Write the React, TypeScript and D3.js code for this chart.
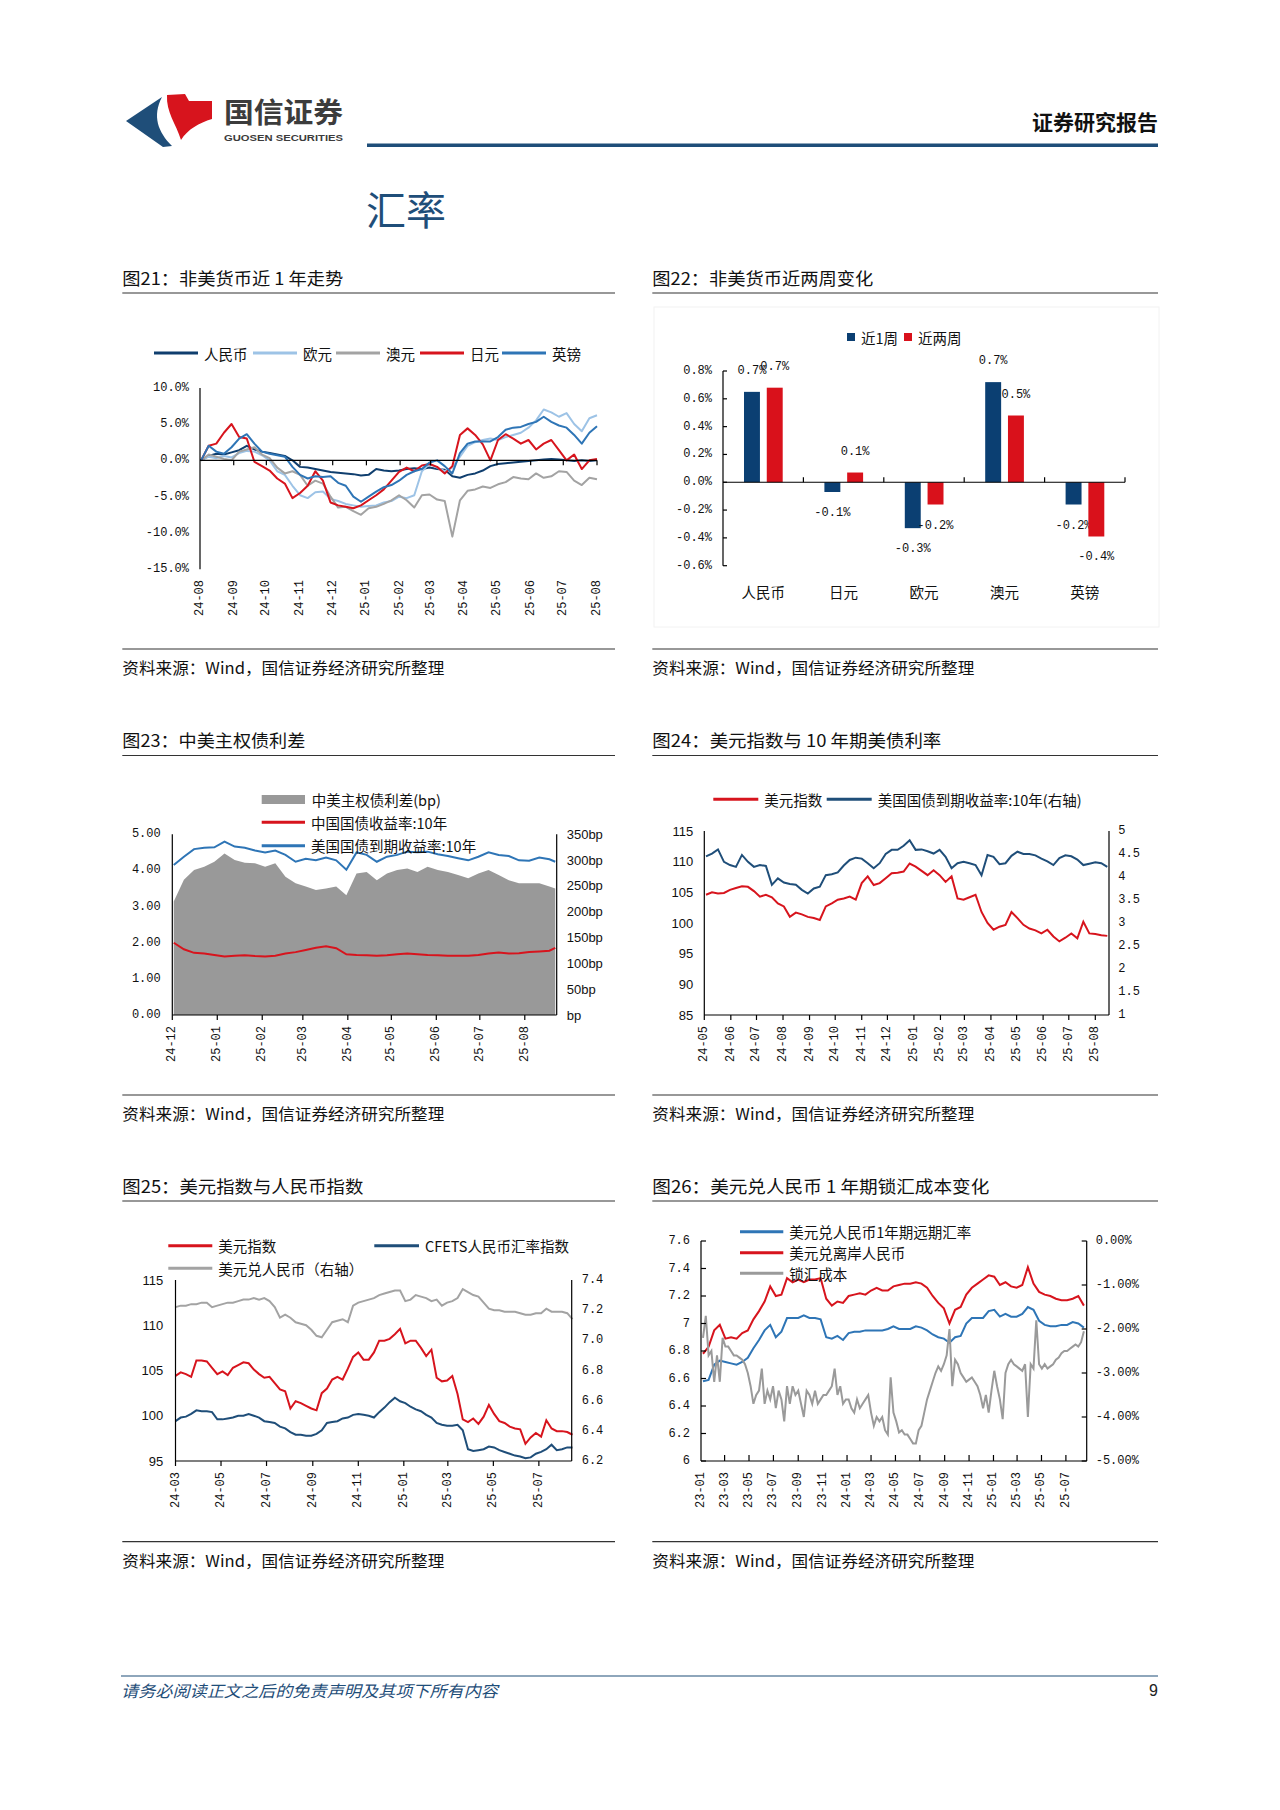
import React from "react";
import * as d3 from "d3";

const CJK = '"Noto Sans CJK SC", "Noto Sans", sans-serif';
const MONO = '"Liberation Mono", "DejaVu Sans Mono", monospace';
const SANS = '"Liberation Sans", Arial, sans-serif';

const NAVY = "#0f3e6e";
const BLUE = "#2e75b6";
const LIGHT = "#9dc3e6";
const GRAY = "#a3a3a3";
const RED = "#d7141d";
const HEAD = "#1f4e79";

const parse = d3.timeParse("%Y-%m-%d");
const fmtMonth = d3.timeFormat("%y-%m");

// 图21 非美货币近1年走势 (weekly from 2024-08-02, %)
const fx21Start = "2024-08-02";
const fx21Names = ["人民币", "欧元", "澳元", "日元", "英镑"];
const fx21Cny = [0, 0.6, 0.9, 0.8, 1.1, 1.4, 2.0, 1.5, 1.2, 1.0, 0.8, 0.6, 0.0, -0.9, -1.0, -1.2, -1.4, -1.6, -1.7, -1.8, -1.9, -2.1, -2.0, -1.2, -1.4, -1.5, -1.4,
  -1.2, -1.1, -1.2, -1.0, -1.2, -1.3, -2.2, -2.4, -2.0, -1.8, -1.4, -0.8, -0.5, -0.4, -0.3, -0.2, -0.1, 0.0, 0.1, 0.2, 0.1, 0.0, -0.1, 0.0, -0.1, 0.0];
const fx21Eur = [0, 0.5, 0.3, 0.6, 0.4, 1.0, 1.3, 1.2, 0.7, 0.0, -1.5, -2.0, -3.5, -4.8, -5.2, -4.4, -4.3, -5.3, -5.6, -6.0, -6.2, -6.4, -6.3, -6.2, -5.8, -5.6, -5.0,
  -5.2, -4.8, -1.5, -0.5, -1.0, -1.5, -1.0, 0.5, 2.0, 2.5, 2.8, 3.0, 2.8, 3.2, 3.5, 3.8, 4.5, 5.5, 7.0, 6.6, 6.0, 6.5, 5.0, 4.0, 5.8, 6.2];
const fx21Aud = [0, 0.8, 0.5, 0.2, 0.0, 1.2, 1.5, 1.8, 0.8, 0.3, -1.0, -1.8, -1.5, -2.0, -3.5, -2.8, -3.2, -5.0, -6.5, -6.4, -7.0, -7.5, -6.6, -6.4, -6.0, -5.5, -4.8,
  -5.5, -6.5, -4.8, -4.7, -5.4, -5.6, -10.5, -5.5, -4.2, -4.0, -3.6, -3.8, -3.3, -3.0, -2.3, -2.5, -2.6, -1.8, -2.4, -2.2, -1.5, -1.6, -2.8, -3.4, -2.4, -2.6];
const fx21Jpy = [0, 2.0, 2.3, 3.8, 5.0, 3.2, 3.0, -0.2, -0.8, -1.4, -2.5, -3.2, -5.2, -4.5, -3.5, -1.5, -2.8, -5.8, -6.2, -6.4, -6.6, -6.2, -5.5, -4.8, -4.0, -2.8, -1.6,
  -1.0, -1.5, -0.7, -0.5, -0.9, -1.8, -0.8, 3.5, 4.4, 3.5, 2.2, 0.0, 2.8, 3.6, 3.0, 2.3, 2.8, 1.5, 2.3, 2.8, 1.4, 0.0, 0.8, -1.2, 0.0, 0.2];
const fx21Gbp = [0, 2.0, 1.2, 0.9, 1.8, 3.0, 3.6, 2.3, 1.2, 0.9, 0.7, 0.5, -0.9, -2.0, -2.5, -2.2, -2.3, -2.2, -3.1, -3.5, -5.0, -5.7, -5.0, -4.3, -3.7, -3.4, -2.8,
  -2.0, -1.5, -1.2, -0.3, 0.0, -0.8, -1.8, 1.0, 2.3, 2.6, 2.6, 2.6, 3.2, 4.2, 4.5, 4.6, 5.0, 5.3, 6.0, 5.3, 4.8, 4.5, 3.5, 2.3, 3.8, 4.7];

// 图22 非美货币近两周变化 (%)
const fx22Cats = ["人民币", "日元", "欧元", "澳元", "英镑"];
const fx22Week1 = [0.65, -0.07, -0.33, 0.72, -0.16];
const fx22Week2 = [0.68, 0.07, -0.16, 0.48, -0.39];

// 图23 中美主权债利差 (weekly from 2024-12-02, last 2025-08-22)
const sp23Start = "2024-12-02";
const sp23Last = "2025-08-22";
const sp23Spread = [220, 262, 281, 287, 297, 313, 300, 295, 294, 287, 294, 268, 255, 249, 242, 245, 249, 232, 274, 277, 261, 274, 281, 284, 277, 287, 281, 277, 271, 265, 274, 281, 271, 261, 255, 255, 255, 249, 245];
const sp23Cn = [2.00, 1.82, 1.72, 1.70, 1.66, 1.62, 1.64, 1.65, 1.63, 1.62, 1.64, 1.70, 1.74, 1.80, 1.86, 1.90, 1.85, 1.68, 1.66, 1.65, 1.64, 1.65, 1.68, 1.70, 1.68, 1.66, 1.65, 1.64, 1.64, 1.64, 1.66, 1.70, 1.73, 1.70, 1.71, 1.74, 1.76, 1.78, 1.86];
const sp23Us = [4.15, 4.38, 4.59, 4.63, 4.64, 4.80, 4.66, 4.63, 4.55, 4.50, 4.55, 4.43, 4.24, 4.32, 4.28, 4.36, 4.28, 4.02, 4.50, 4.43, 4.24, 4.38, 4.43, 4.52, 4.50, 4.52, 4.45, 4.40, 4.34, 4.28, 4.38, 4.50, 4.43, 4.40, 4.28, 4.27, 4.36, 4.31, 4.24];

// 图24 美元指数与10年期美债利率 (weekly from 2024-05-03)
const dx24Start = "2024-05-03";
const dx24Dxy = [104.6, 105.0, 104.8, 104.9, 105.4, 105.7, 106.0, 105.9, 105.2, 104.3, 104.6, 104.2, 103.2, 102.7, 101.0, 101.7, 101.4, 101.0, 100.8, 100.5,
  102.7, 103.2, 103.8, 104.0, 104.3, 103.8, 106.5, 107.6, 106.2, 106.5, 107.3, 108.1, 108.2, 108.4, 109.7, 109.2, 108.5, 107.8, 108.6, 107.8,
  106.7, 107.6, 104.0, 103.8, 104.2, 104.6, 101.8, 100.0, 98.9, 99.4, 99.7, 101.8, 100.8, 99.7, 99.1, 98.8, 98.3, 98.9, 97.8, 97.0,
  97.6, 98.3, 97.5, 100.2, 98.3, 98.2, 98.0, 97.9];
const dx24Ust = [4.45, 4.51, 4.60, 4.33, 4.26, 4.22, 4.48, 4.33, 4.22, 4.26, 4.24, 3.83, 3.97, 3.88, 3.85, 3.83, 3.72, 3.64, 3.75, 3.79,
  4.04, 4.06, 4.10, 4.25, 4.37, 4.42, 4.40, 4.30, 4.19, 4.30, 4.50, 4.59, 4.59, 4.68, 4.80, 4.59, 4.60, 4.56, 4.51, 4.59,
  4.44, 4.19, 4.30, 4.33, 4.30, 4.26, 4.04, 4.48, 4.44, 4.28, 4.30, 4.46, 4.55, 4.50, 4.50, 4.47, 4.40, 4.34, 4.26, 4.41,
  4.47, 4.45, 4.38, 4.26, 4.29, 4.32, 4.30, 4.22];

// 图25 美元指数与人民币指数 (weekly from 2024-03-01)
const rm25Start = "2024-03-01";
const rm25Dxy = [104.4, 104.8, 104.6, 104.3, 106.1, 106.1, 106.0, 105.3, 104.6, 104.9, 104.5, 105.3, 105.6, 105.9, 105.8, 105.1, 104.6, 104.2, 104.3, 103.6,
  102.9, 102.7, 100.8, 101.6, 101.4, 101.1, 100.8, 100.6, 102.5, 103.0, 104.0, 104.3, 104.0, 105.2, 106.5, 107.0, 106.2, 106.2, 107.0, 108.3,
  108.3, 108.5, 109.0, 109.6, 108.0, 108.3, 108.3, 107.5, 106.6, 107.3, 104.2, 103.8, 103.9, 104.4, 102.4, 99.6, 99.3, 99.7, 99.1, 99.9,
  101.2, 100.2, 99.4, 99.2, 98.8, 98.6, 98.5, 96.9, 97.6, 98.1, 97.7, 99.5, 98.6, 98.3, 98.3, 98.2, 97.9];
const rm25Cfets = [99.4, 99.8, 99.9, 100.2, 100.6, 100.5, 100.5, 100.4, 99.6, 99.6, 99.7, 99.8, 100.0, 100.0, 100.2, 100.0, 99.8, 99.4, 99.3, 99.2,
  98.8, 98.6, 98.2, 97.9, 97.9, 97.8, 97.8, 98.0, 98.4, 99.2, 99.3, 99.4, 99.7, 99.8, 100.1, 100.2, 100.1, 100.0, 99.8, 100.4,
  100.9, 101.5, 102.0, 101.6, 101.4, 101.0, 100.7, 100.5, 100.1, 99.8, 99.2, 99.0, 98.9, 98.9, 99.0, 98.4, 96.3, 96.1, 96.2, 96.3,
  96.6, 96.5, 96.2, 96.0, 95.8, 95.6, 95.5, 95.3, 95.4, 95.8, 96.0, 96.3, 96.8, 96.2, 96.3, 96.5, 96.5];
const rm25UsdCny = [7.22, 7.23, 7.23, 7.24, 7.24, 7.25, 7.25, 7.22, 7.23, 7.24, 7.25, 7.25, 7.26, 7.27, 7.27, 7.28, 7.27, 7.28, 7.26, 7.22,
  7.15, 7.17, 7.15, 7.12, 7.11, 7.10, 7.07, 7.03, 7.02, 7.07, 7.12, 7.13, 7.14, 7.12, 7.23, 7.25, 7.26, 7.27, 7.28, 7.30,
  7.31, 7.32, 7.33, 7.33, 7.26, 7.27, 7.30, 7.29, 7.28, 7.26, 7.27, 7.23, 7.25, 7.26, 7.28, 7.34, 7.32, 7.30, 7.29, 7.25,
  7.21, 7.20, 7.20, 7.19, 7.19, 7.19, 7.18, 7.17, 7.17, 7.18, 7.18, 7.21, 7.19, 7.19, 7.19, 7.18, 7.14];

// 图26 美元兑人民币1年期锁汇成本 (rates biweekly from 2023-01-06, cost weekly from 2023-01-06)
const lk26Start = "2023-01-06";
const lk26Cnh = [6.78, 6.83, 6.95, 6.99, 6.89, 6.90, 6.89, 6.93, 6.95, 7.03, 7.09, 7.16, 7.27, 7.20, 7.21, 7.33, 7.30, 7.32, 7.30, 7.32,
  7.32, 7.33, 7.18, 7.13, 7.16, 7.15, 7.20, 7.21, 7.22, 7.21, 7.24, 7.26, 7.24, 7.24, 7.27, 7.28, 7.29, 7.29, 7.30, 7.29,
  7.26, 7.20, 7.15, 7.11, 7.00, 7.10, 7.12, 7.21, 7.26, 7.29, 7.32, 7.35, 7.34, 7.28, 7.30, 7.27, 7.26, 7.28, 7.41, 7.29,
  7.23, 7.21, 7.20, 7.18, 7.17, 7.17, 7.18, 7.20, 7.13];
const lk26Fwd = [6.58, 6.59, 6.70, 6.73, 6.72, 6.71, 6.70, 6.72, 6.75, 6.82, 6.88, 6.95, 6.99, 6.90, 6.94, 7.04, 7.04, 7.04, 7.06, 7.04,
  7.04, 7.03, 6.90, 6.89, 6.91, 6.88, 6.93, 6.94, 6.94, 6.95, 6.95, 6.95, 6.95, 6.96, 6.98, 6.96, 6.96, 6.96, 6.98, 6.97,
  6.95, 6.92, 6.90, 6.89, 6.86, 6.90, 6.91, 7.00, 7.04, 7.04, 7.04, 7.09, 7.10, 7.05, 7.07, 7.05, 7.05, 7.07, 7.12, 7.10,
  7.02, 6.99, 6.98, 6.98, 6.99, 6.99, 7.01, 7.00, 6.97];
const lk26Cost = [-2.2, -1.7, -2.6, -2.5, -3.2, -2.6, -3.2, -2.2, -2.4, -2.4,
  -2.5, -2.6, -2.6, -2.65, -2.7, -2.8, -3.0, -3.3, -3.7, -3.5,
  -3.4, -2.9, -3.7, -3.4, -3.6, -3.3, -3.8, -3.4, -3.6, -4.1,
  -3.3, -3.7, -3.3, -3.5, -3.4, -3.7, -4.0, -3.4, -3.5, -3.7,
  -3.4, -3.7, -3.6, -3.5, -3.5, -3.4, -3.3, -2.9, -3.5, -3.3,
  -3.7, -3.6, -3.6, -3.8, -3.9, -3.6, -3.8, -3.7, -3.6, -3.5,
  -3.9, -4.2, -4.0, -4.1, -4.0, -4.3, -4.4, -3.1, -3.9, -4.1,
  -4.35, -4.3, -4.4, -4.4, -4.5, -4.6, -4.6, -4.3, -4.2, -3.9,
  -3.6, -3.4, -3.2, -3.0, -2.85, -2.95, -2.8, -2.6, -2.0, -3.3,
  -2.7, -2.8, -3.0, -3.1, -3.2, -3.15, -3.1, -3.2, -3.3, -3.5,
  -3.8, -3.5, -3.9, -3.4, -2.95, -3.3, -3.6, -4.05, -3.0, -2.8,
  -2.7, -2.8, -2.85, -2.9, -2.95, -2.8, -4.0, -2.8, -2.9, -1.8,
  -2.8, -2.9, -2.8, -2.9, -2.85, -2.8, -2.7, -2.65, -2.55, -2.5,
  -2.5, -2.45, -2.4, -2.35, -2.4, -2.3, -2.05];

function stepDates(start: string, n: number, step: number) {
  const s = parse(start)!;
  return d3.range(n).map((i) => d3.timeDay.offset(s, i * step));
}

function path(dates: Date[], vals: number[], x: any, y: any) {
  return d3.line<number>().x((_, i) => x(dates[i])).y((v) => y(v))(vals) || "";
}

function Frame({ x0, x1, titleY, bottomY, title, titleLen }: any) {
  return (
    <g>
      <text x={x0} y={titleY} fontSize={17.5} dominantBaseline="central" fill="#111" textLength={titleLen} lengthAdjust="spacingAndGlyphs">{title}</text>
      <line x1={x0} x2={x1} y1={titleY + 16} y2={titleY + 16} stroke="#333" strokeWidth={1.2} />
      <line x1={x0} x2={x1} y1={bottomY} y2={bottomY} stroke="#333" strokeWidth={1.2} />
      <text x={x0} y={bottomY + 18} fontSize={16} dominantBaseline="central" fill="#111" textLength={322} lengthAdjust="spacingAndGlyphs">资料来源：Wind，国信证券经济研究所整理</text>
    </g>
  );
}

function XLabels({ ticks, x, y }: any) {
  return (
    <g>
      {ticks.map((t: Date, i: number) => (
        <text key={i} transform={`translate(${x(t)},${y}) rotate(-90)`} textAnchor="end" dominantBaseline="central" fontFamily={MONO} fontSize={12} fill="#111">
          {fmtMonth(t)}
        </text>
      ))}
    </g>
  );
}

function YLabels({ ticks, y, x, anchor, fmt, font = MONO, size = 12 }: any) {
  return (
    <g>
      {ticks.map((t: number, i: number) => (
        <text key={i} x={x} y={y(t)} textAnchor={anchor} dominantBaseline="central" fontFamily={font} fontSize={size} fill="#111">
          {fmt(t)}
        </text>
      ))}
    </g>
  );
}

function LegendLine({ x, y, color, label, w = 44, width = 3 }: any) {
  return (
    <g>
      <line x1={x} x2={x + w} y1={y} y2={y} stroke={color} strokeWidth={width} />
      <text x={x + w + 6} y={y} fontSize={14.5} dominantBaseline="central" fill="#111">{label}</text>
    </g>
  );
}

function Header() {
  return (
    <g>
      <path d="M126,121 L162,97 C152,116 158,132 172,146 L163,147 Z" fill={HEAD} />
      <path d="M167,95 L185,94 L189,101 L212,101 L212,119 C199,123 188,129 181,140 C176,124 166,112 167,95 Z" fill="#d7141d" />
      <text x={224} y={111} fontSize={28} fontWeight={600} fill="#3c3c3c" dominantBaseline="central" textLength={119} lengthAdjust="spacingAndGlyphs">国信证券</text>
      <text x={224} y={137} fontSize={9.5} fontWeight={700} fontFamily={SANS} fill="#3c3c3c" dominantBaseline="central" textLength={119} lengthAdjust="spacingAndGlyphs">GUOSEN SECURITIES</text>
      <text x={1158} y={121} fontSize={21} fontWeight={600} fill="#111" textAnchor="end" dominantBaseline="central">证券研究报告</text>
      <rect x={367} y={143.5} width={791} height={3.5} fill={HEAD} />
      <text x={366} y={208} fontSize={40} fill={HEAD} dominantBaseline="central">汇率</text>
    </g>
  );
}

function Footer() {
  return (
    <g>
      <line x1={121} x2={1158} y1={1676} y2={1676} stroke={HEAD} strokeWidth={1.2} />
      <text x={121} y={1690} fontSize={16} fontStyle="italic" fill={HEAD} dominantBaseline="central" textLength={377} lengthAdjust="spacingAndGlyphs">请务必阅读正文之后的免责声明及其项下所有内容</text>
      <text x={1158} y={1690} fontSize={16} fill="#222" textAnchor="end" dominantBaseline="central" fontFamily={SANS}>9</text>
    </g>
  );
}

function Fig21() {
  const d0 = parse("2024-08-01")!;
  const d1 = parse("2025-08-01")!;
  const x = d3.scaleTime().domain([d0, d1]).range([200, 597]);
  const y = d3.scaleLinear().domain([-15, 10]).range([569.3, 387.7]);
  const dates = stepDates(fx21Start, fx21Cny.length, 7);
  const months = d3.timeMonth.range(d0, d3.timeDay.offset(d1, 1));
  const series = [
    { v: fx21Cny, c: NAVY },
    { v: fx21Eur, c: LIGHT },
    { v: fx21Aud, c: GRAY },
    { v: fx21Jpy, c: RED },
    { v: fx21Gbp, c: BLUE },
  ];
  const legX = [154, 253, 336, 420, 502];
  return (
    <g>
      <Frame x0={122.3} x1={615} titleY={277} bottomY={649} title="图21：非美货币近 1 年走势" titleLen={221} />
      {series.map((s, i) => (
        <LegendLine key={i} x={legX[i]} y={353} color={s.c} label={fx21Names[i]} />
      ))}
      {series.map((s, i) => (
        <path key={i} d={path(dates, s.v, x, y)} fill="none" stroke={s.c} strokeWidth={2} strokeLinejoin="round" />
      ))}
      <line x1={200} x2={200} y1={388} y2={569.3} stroke="#000" strokeWidth={1.2} />
      <line x1={200} x2={597} y1={y(0)} y2={y(0)} stroke="#000" strokeWidth={1.2} />
      {months.slice(1).map((m, i) => (
        <line key={i} x1={x(m)} x2={x(m)} y1={y(0)} y2={y(0) + 5} stroke="#000" strokeWidth={1.2} />
      ))}
      <YLabels ticks={[-15, -10, -5, 0, 5, 10]} y={y} x={189} anchor="end" fmt={(v: number) => v.toFixed(1) + "%"} />
      <XLabels ticks={months} x={x} y={580} />
    </g>
  );
}

function Fig22() {
  const x = d3.scaleBand().domain(fx22Cats).range([723, 1125]);
  const inner = d3.scaleBand().domain(["w1", "w2"]).range([21, 59.7]).paddingInner(0.3);
  const y = d3.scaleLinear().domain([-0.6, 0.8]).range([565.7, 371]);
  const ticks = d3.range(-0.6, 0.81, 0.2);
  const groups = [
    { k: "w1", v: fx22Week1, c: "#0b3f72" },
    { k: "w2", v: fx22Week2, c: "#d9111b" },
  ];
  return (
    <g>
      <Frame x0={652.3} x1={1158} titleY={277} bottomY={649} title="图22：非美货币近两周变化" titleLen={221} />
      <rect x={654} y={307} width={505} height={320} fill="none" stroke="#f2f2f2" />
      <rect x={847} y={333} width={8} height={8} fill="#0b3f72" />
      <text x={861} y={337} fontSize={14.5} dominantBaseline="central" fill="#111">近1周</text>
      <rect x={904} y={333} width={8} height={8} fill="#d9111b" />
      <text x={918} y={337} fontSize={14.5} dominantBaseline="central" fill="#111">近两周</text>
      {groups.map((g) =>
        fx22Cats.map((c, i) => {
          const v = g.v[i];
          const bx = x(c)! + inner(g.k)!;
          const bw = inner.bandwidth();
          const top = Math.min(y(v), y(0));
          const end = y(v);
          return (
            <g key={g.k + c}>
              <rect x={bx} y={top} width={bw} height={Math.abs(y(v) - y(0))} fill={g.c} />
              <text x={bx + bw / 2} y={v >= 0 ? end - 21 : end + 21} textAnchor="middle" dominantBaseline="central" fontFamily={MONO} fontSize={12} fill="#111">
                {v.toFixed(1) + "%"}
              </text>
            </g>
          );
        })
      )}
      <line x1={723} x2={723} y1={371} y2={565.7} stroke="#000" strokeWidth={1.2} />
      {ticks.map((t, i) => (
        <line key={i} x1={723} x2={727} y1={y(t)} y2={y(t)} stroke="#000" strokeWidth={1.2} />
      ))}
      <line x1={723} x2={1125} y1={y(0)} y2={y(0)} stroke="#000" strokeWidth={1.2} />
      {fx22Cats.map((c, i) => (
        <line key={i} x1={x(c)! + x.bandwidth()} x2={x(c)! + x.bandwidth()} y1={y(0)} y2={y(0) - 5} stroke="#000" strokeWidth={1.2} />
      ))}
      <YLabels ticks={ticks} y={y} x={712} anchor="end" fmt={(v: number) => v.toFixed(1) + "%"} />
      {fx22Cats.map((c, i) => (
        <text key={i} x={x(c)! + x.bandwidth() / 2} y={591.7} textAnchor="middle" dominantBaseline="central" fontSize={14.5} fill="#111">{c}</text>
      ))}
    </g>
  );
}

function Fig23() {
  const d0 = parse("2024-12-01")!;
  const d1 = parse("2025-08-23")!;
  const x = d3.scaleTime().domain([d0, d1]).range([172.3, 556.7]);
  const yL = d3.scaleLinear().domain([0, 5]).range([1015, 834.3]);
  const yR = d3.scaleLinear().domain([0, 350]).range([1015, 834.3]);
  const dates = stepDates(sp23Start, sp23Spread.length - 1, 7).concat([parse(sp23Last)!]);
  const area = d3.area<number>().x((_, i) => x(dates[i])).y0(yR(0)).y1((v) => yR(v))(sp23Spread) || "";
  const months = d3.timeMonth.range(d0, d1);
  return (
    <g>
      <Frame x0={122.3} x1={615} titleY={739.5} bottomY={1095} title="图23：中美主权债利差" titleLen={183} />
      <path d={area} fill="#999" />
      <path d={path(dates, sp23Cn, x, yL)} fill="none" stroke={RED} strokeWidth={2} />
      <path d={path(dates, sp23Us, x, yL)} fill="none" stroke={BLUE} strokeWidth={2} />
      <line x1={172.3} x2={172.3} y1={834.3} y2={1015} stroke="#000" strokeWidth={1.2} />
      <line x1={556.7} x2={556.7} y1={834.3} y2={1015} stroke="#000" strokeWidth={1.2} />
      <line x1={172.3} x2={556.7} y1={1015} y2={1015} stroke="#000" strokeWidth={1.2} />
      {months.map((m, i) => (
        <line key={i} x1={x(m)} x2={x(m)} y1={1015} y2={1020} stroke="#000" strokeWidth={1.2} />
      ))}
      <YLabels ticks={[0, 1, 2, 3, 4, 5]} y={yL} x={160.7} anchor="end" fmt={(v: number) => v.toFixed(2)} />
      <YLabels ticks={[0, 50, 100, 150, 200, 250, 300, 350]} y={yR} x={566.7} anchor="start" font={SANS} size={13} fmt={(v: number) => (v === 0 ? "bp" : v + "bp")} />
      <XLabels ticks={months} x={x} y={1026} />
      <rect x={261.7} y={795} width={43.3} height={9} fill="#999" />
      <text x={311.7} y={799.3} fontSize={14.5} dominantBaseline="central" fill="#111">中美主权债利差(bp)</text>
      <LegendLine x={261.7} y={822.3} w={43.3} color={RED} label="中国国债收益率:10年" />
      <LegendLine x={261.7} y={845.7} w={43.3} color={BLUE} label="美国国债到期收益率:10年" />
    </g>
  );
}

function Fig24() {
  const d0 = parse("2024-05-01")!;
  const d1 = parse("2025-08-17")!;
  const x = d3.scaleTime().domain([d0, d1]).range([704.3, 1109]);
  const yL = d3.scaleLinear().domain([85, 115]).range([1015, 831]);
  const yR = d3.scaleLinear().domain([1, 5]).range([1015, 831]);
  const dates = stepDates(dx24Start, dx24Dxy.length, 7);
  const months = d3.timeMonth.range(d0, d1);
  return (
    <g>
      <Frame x0={652.3} x1={1158} titleY={739.5} bottomY={1095} title="图24：美元指数与 10 年期美债利率" titleLen={289} />
      <LegendLine x={713.3} y={799.3} w={45} color={RED} label="美元指数" />
      <LegendLine x={826.7} y={799.3} w={45} color={HEAD} label="美国国债到期收益率:10年(右轴)" />
      <path d={path(dates, dx24Dxy, x, yL)} fill="none" stroke={RED} strokeWidth={2} />
      <path d={path(dates, dx24Ust, x, yR)} fill="none" stroke={HEAD} strokeWidth={2} />
      <line x1={704.3} x2={704.3} y1={831} y2={1015} stroke="#000" strokeWidth={1.2} />
      <line x1={1109} x2={1109} y1={831} y2={1015} stroke="#000" strokeWidth={1.2} />
      <line x1={704.3} x2={1109} y1={1015} y2={1015} stroke="#000" strokeWidth={1.2} />
      {months.map((m, i) => (
        <line key={i} x1={x(m)} x2={x(m)} y1={1015} y2={1020} stroke="#000" strokeWidth={1.2} />
      ))}
      <YLabels ticks={[85, 90, 95, 100, 105, 110, 115]} y={yL} x={693.3} anchor="end" font={SANS} size={13} fmt={(v: number) => String(v)} />
      <YLabels ticks={[1, 1.5, 2, 2.5, 3, 3.5, 4, 4.5, 5]} y={yR} x={1118.3} anchor="start" fmt={(v: number) => String(v)} />
      <XLabels ticks={months} x={x} y={1026} />
    </g>
  );
}

function Fig25() {
  const d0 = parse("2024-03-01")!;
  const d1 = parse("2025-08-14")!;
  const x = d3.scaleTime().domain([d0, d1]).range([175.5, 571.7]);
  const yL = d3.scaleLinear().domain([95, 115]).range([1461, 1280]);
  const yR = d3.scaleLinear().domain([6.2, 7.4]).range([1461, 1280]);
  const dates = stepDates(rm25Start, rm25Dxy.length, 7);
  const months = d3.timeMonth.every(2)!.range(d0, d1);
  return (
    <g>
      <Frame x0={122.3} x1={615} titleY={1185} bottomY={1541.7} title="图25：美元指数与人民币指数" titleLen={241} />
      <LegendLine x={168.3} y={1245.7} color={RED} label="美元指数" />
      <LegendLine x={374.3} y={1245.7} w={44.7} color={HEAD} label="CFETS人民币汇率指数" />
      <LegendLine x={168.3} y={1268.3} color={GRAY} label="美元兑人民币（右轴）" />
      <path d={path(dates, rm25UsdCny, x, yR)} fill="none" stroke={GRAY} strokeWidth={2} />
      <path d={path(dates, rm25Dxy, x, yL)} fill="none" stroke={RED} strokeWidth={2} />
      <path d={path(dates, rm25Cfets, x, yL)} fill="none" stroke={HEAD} strokeWidth={2} />
      <line x1={175.5} x2={175.5} y1={1280} y2={1461} stroke="#000" strokeWidth={1.2} />
      <line x1={571.7} x2={571.7} y1={1280} y2={1461} stroke="#000" strokeWidth={1.2} />
      <line x1={175.5} x2={571.7} y1={1461} y2={1461} stroke="#000" strokeWidth={1.2} />
      {months.map((m, i) => (
        <line key={i} x1={x(m)} x2={x(m)} y1={1461} y2={1466} stroke="#000" strokeWidth={1.2} />
      ))}
      <YLabels ticks={[95, 100, 105, 110, 115]} y={yL} x={163.3} anchor="end" font={SANS} size={13} fmt={(v: number) => String(v)} />
      <YLabels ticks={[6.2, 6.4, 6.6, 6.8, 7.0, 7.2, 7.4]} y={yR} x={581.7} anchor="start" fmt={(v: number) => v.toFixed(1)} />
      <XLabels ticks={months} x={x} y={1472} />
    </g>
  );
}

function Fig26() {
  const d0 = parse("2023-01-01")!;
  const d1 = parse("2025-08-22")!;
  const x = d3.scaleTime().domain([d0, d1]).range([701, 1086.7]);
  const yL = d3.scaleLinear().domain([6, 7.6]).range([1461, 1241]);
  const yR = d3.scaleLinear().domain([-5, 0]).range([1461, 1241]);
  const rateDates = stepDates(lk26Start, lk26Cnh.length, 14);
  const costDates = stepDates(lk26Start, lk26Cost.length, 7);
  const months = d3.timeMonth.every(2)!.range(d0, d1);
  const lTicks = [6, 6.2, 6.4, 6.6, 6.8, 7, 7.2, 7.4, 7.6];
  const rTicks = [-5, -4, -3, -2, -1, 0];
  return (
    <g>
      <Frame x0={652.3} x1={1158} titleY={1185} bottomY={1541.7} title="图26：美元兑人民币 1 年期锁汇成本变化" titleLen={337} />
      <path d={path(rateDates, lk26Fwd, x, yL)} fill="none" stroke={BLUE} strokeWidth={2} />
      <path d={path(rateDates, lk26Cnh, x, yL)} fill="none" stroke={RED} strokeWidth={2} />
      <path d={path(costDates, lk26Cost, x, yR)} fill="none" stroke="#9a9a9a" strokeWidth={2} />
      <line x1={701} x2={701} y1={1241} y2={1461} stroke="#000" strokeWidth={1.2} />
      <line x1={1086.7} x2={1086.7} y1={1241} y2={1461} stroke="#000" strokeWidth={1.2} />
      <line x1={701} x2={1086.7} y1={1461} y2={1461} stroke="#000" strokeWidth={1.2} />
      {lTicks.map((t, i) => (
        <line key={i} x1={701} x2={706} y1={yL(t)} y2={yL(t)} stroke="#000" strokeWidth={1.2} />
      ))}
      {rTicks.map((t, i) => (
        <line key={i} x1={1081.7} x2={1086.7} y1={yR(t)} y2={yR(t)} stroke="#000" strokeWidth={1.2} />
      ))}
      {months.slice(1).map((m, i) => (
        <line key={i} x1={x(m)} x2={x(m)} y1={1461} y2={1455} stroke="#000" strokeWidth={1.2} />
      ))}
      <YLabels ticks={lTicks} y={yL} x={690} anchor="end" fmt={(v: number) => String(v)} />
      <YLabels ticks={rTicks} y={yR} x={1095.7} anchor="start" fmt={(v: number) => v.toFixed(2) + "%"} />
      <XLabels ticks={months} x={x} y={1472} />
      <LegendLine x={740} y={1231.7} w={43.3} color={BLUE} label="美元兑人民币1年期远期汇率" />
      <LegendLine x={740} y={1252.7} w={43.3} color={RED} label="美元兑离岸人民币" />
      <LegendLine x={740} y={1273.3} w={43.3} color="#9a9a9a" label="锁汇成本" />
    </g>
  );
}

export default function App() {
  return (
    <svg width={1280} height={1810} style={{ position: "absolute", left: 0, top: 0, display: "block" }} fontFamily={CJK}>
      <rect width={1280} height={1810} fill="#fff" />
      <Header />
      <Fig21 />
      <Fig22 />
      <Fig23 />
      <Fig24 />
      <Fig25 />
      <Fig26 />
      <Footer />
    </svg>
  );
}
